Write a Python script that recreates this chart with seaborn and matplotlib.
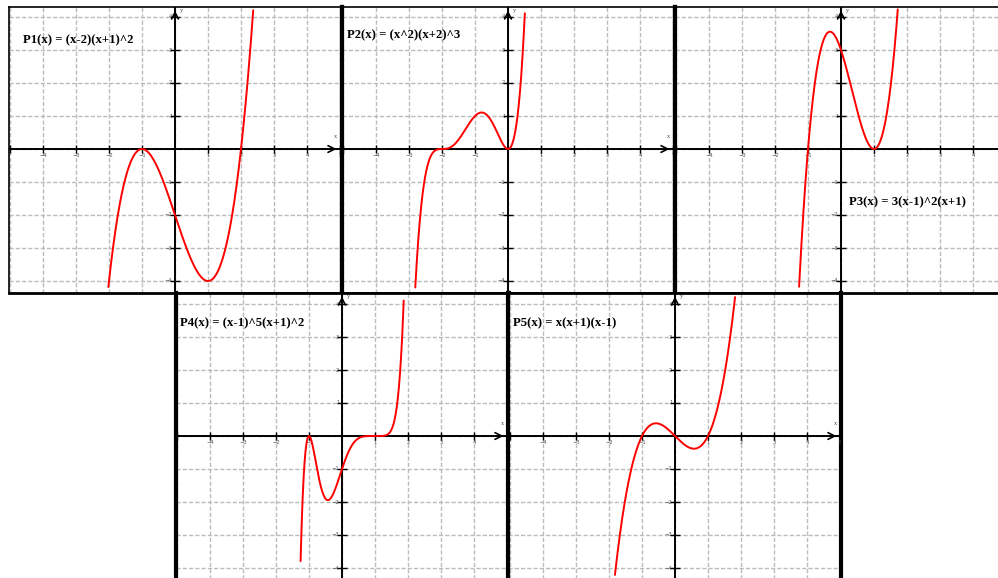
import numpy as np
import matplotlib
matplotlib.use("Agg")
import matplotlib.pyplot as plt
import seaborn as sns

# The five polynomials, as written in the panel titles: scale * prod (x - root)^power
titles = ["P1(x) = (x-2)(x+1)^2", "P2(x) = (x^2)(x+2)^3", "P3(x) = 3(x-1)^2(x+1)",
          "P4(x) = (x-1)^5(x+1)^2", "P5(x) = x(x+1)(x-1)"]
roots = [[2, -1], [0, -2], [1, -1], [1, -1], [0, -1, 1]]
powers = [[1, 2], [2, 3], [2, 1], [5, 2], [1, 1, 1]]
scales = [1, 1, 3, 1, 1]
# visible x-range of each red curve
x_start = [-2.02, -2.81, -1.27, -1.255, -1.82]
x_end = [2.37, 0.51, 1.72, 1.87, 1.82]
# tick values on the axes
x_ticks = [-5, -4, -3, -2, -1, 1, 2, 3, 4, 5]
y_ticks = [-4, -3, -2, -1, 1, 2, 3, 4]

# --- layout (pixels): left, right, top, bottom, x of y-axis, y of x-axis ---
W, H, U = 998, 578, 33.0
panels = [(9, 342, 7, 293, 175, 149),
          (342, 675, 7, 293, 508, 149),
          (675, 1008, 7, 293, 841, 149),
          (176, 509, 293, 579, 342, 436),
          (508, 841, 293, 579, 675, 436)]
# title anchor (data coords, left/center)
title_xy = [(-4.6, 3.3), (-4.88, 3.45), (0.24, -1.6), (-4.9, 3.42), (-4.92, 3.43)]
# spine widths: left, right, top, bottom
frames = [(1.2, 3, 1.2, 2), (3, 3, 1.2, 2), (3, 3, 1.2, 2), (3, 3, 2, 1), (3, 3, 2, 1)]

sns.set_theme(style="white")
plt.rcParams["font.family"] = ["DejaVu Sans"]

fig = plt.figure(figsize=(W / 100, H / 100), dpi=100)
fig.patch.set_facecolor("white")

for i, (l, r, t, b, ox, oy) in enumerate(panels):
    ax = fig.add_axes([l / W, (H - b) / H, (r - l) / W, (b - t) / H])
    x0, x1 = (l - ox) / U, (r - ox) / U
    y0, y1 = (oy - b) / U, (oy - t) / U
    ax.set_xlim(x0, x1)
    ax.set_ylim(y0, y1)
    # right end of what is visible in the image (panel 3 is cut by the edge)
    x_vis = min(x1, (W - ox) / U, 5.0)

    # dashed grid at each unit
    ax.set_xticks(np.arange(-5, 6))
    ax.set_yticks(np.arange(-4, 5))
    ax.tick_params(length=0, labelbottom=False, labelleft=False)
    ax.grid(True, color="#bbbbbb", lw=1.0, ls=(0, (3, 1.5)))

    # coordinate axes with arrows
    ax.axhline(0, color="black", lw=1.4, zorder=3)
    ax.axvline(0, color="black", lw=1.4, zorder=3)
    if x_vis >= 4.99:
        ax.annotate("", xy=(x_vis - 0.02, 0), xytext=(x_vis - 0.35, 0),
                    arrowprops=dict(arrowstyle="->", color="black", lw=1.2), zorder=4)
        ax.text(x_vis - 0.15, 0.3, "x", fontsize=4.5, family="Liberation Serif",
                color="#444444", ha="center", va="bottom", clip_on=True)
    ax.annotate("", xy=(0, y1 - 0.02), xytext=(0, y1 - 0.35),
                arrowprops=dict(arrowstyle="->", color="black", lw=1.2), zorder=4)
    ax.text(0.15, y1 - 0.12, "y", fontsize=4.5, family="Liberation Serif",
            color="#444444", ha="left", va="center", clip_on=True)

    # tick marks and tiny labels
    ax.plot(x_ticks, [0] * len(x_ticks), ls="none", marker="|", ms=6, mew=1.0,
            color="black", zorder=4)
    ax.plot([0] * len(y_ticks), y_ticks, ls="none", marker="_", ms=7, mew=1.0,
            color="black", zorder=4)
    for k in x_ticks:
        if k <= -5 or k > x_vis + 0.01:
            continue
        ax.text(k, -0.13, str(k).replace("-", "\u2212"), fontsize=3.8, color="#555555",
                ha="center", va="top", clip_on=True)
    for k in y_ticks:
        if k < y0 + 0.15:
            continue
        ax.text(-0.08, k, str(k).replace("-", "\u2212"), fontsize=3.8, color="#555555",
                ha="right", va="center", clip_on=True)

    # the polynomial curve
    xs = np.linspace(x_start[i], x_end[i], 600)
    ys = scales[i] * np.prod([(xs - rt) ** p for rt, p in zip(roots[i], powers[i])], axis=0)
    sns.lineplot(x=xs, y=ys, ax=ax, color="#ff0000", lw=1.4, sort=False, zorder=5)

    ax.text(title_xy[i][0], title_xy[i][1], titles[i], fontsize=9.2, fontweight="bold",
            family="Liberation Serif", color="black", ha="left", va="center", zorder=6)

    for side, w in zip(["left", "right", "top", "bottom"], frames[i]):
        ax.spines[side].set_visible(True)
        ax.spines[side].set_color("black")
        ax.spines[side].set_linewidth(w)
    ax.set_xlabel("")
    ax.set_ylabel("")

fig.savefig("out.png", dpi=100, facecolor="white")
